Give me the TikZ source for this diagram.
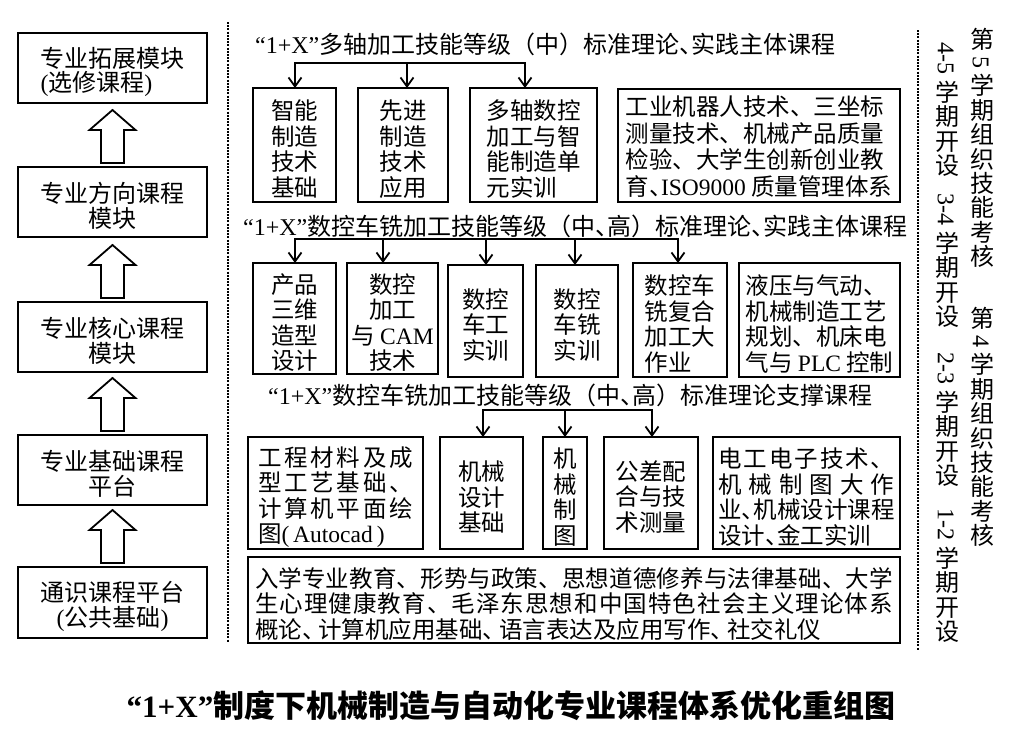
\documentclass[tikz,border=0pt]{standalone}
\usepackage{fontspec}
\setmainfont{Liberation Serif}
\newfontfamily\cjk{Noto Sans CJK SC}
\usetikzlibrary{arrows.meta,calc}
\lineskiplimit=-100pt
\lineskip=0pt
\newcommand\lt[1]{{\rmfamily #1}}
\newcommand\dn{\makebox[.5em][l]{、}}
\newcommand\dnw{\makebox[.7em][l]{、}}
% justified line
\def\jj#1{#1\futurelet\jnext\jjx}
\def\jjx{\ifx\jnext\relax\expandafter\jjend\else\expandafter\jjmore\fi}
\def\jjmore{\hfil\jj}
\def\jjend\relax{}
\newcommand\just[2]{\makebox[#1][s]{\jj#2\relax}}
% vertical text
\newlength\vcp
\newcommand\vc[1]{\rotatebox[origin=c]{90}{\makebox[1em][c]{\rule[\dimexpr.38em-.5\vcp\relax]{0pt}{\vcp}#1}}}
\def\vloop#1{\ifx\relax#1\else\vc{#1}\expandafter\vloop\fi}
\newcommand\vstr[1]{\vloop#1\relax}
% box with text
\newcommand\bx[7][]{%
  \node[box,minimum width={(#5)-(#3)},minimum height={(#6)-(#4)}] (#2) at ({((#3)+(#5))/2},{((#4)+(#6))/2}) {};
  \node[txt,#1] (#2t) at ([yshift=-4pt]#2.center) {#7};}
\newcommand\blkarr[1]{\draw[blk] ($(#1.north)+(-11.5,-4)$) -- ++(0,-33) -- ++(-11.5,0) -- ++(23,-20) -- ++(23,20) -- ++(-11.5,0) -- ++(0,33) -- cycle;}
\begin{document}
\begin{tikzpicture}[x=1pt,y=-1pt,
  box/.style={draw,line width=1.8pt,inner sep=0pt,outer sep=0pt},
  txt/.style={inner sep=0pt,align=center,font=\cjk\fontsize{23.5}{25.5}\selectfont},
  ltxt/.style={txt,font=\cjk\fontsize{24}{24.5}\selectfont},
  hd/.style={inner sep=0pt,anchor=west,font=\cjk\fontsize{24}{24}\selectfont},
  ln/.style={line width=1.8pt,line cap=rect},
  arr/.style={line width=1.8pt,-{Straight Barb[length=9pt,width=13pt]}},
  blk/.style={line width=1.8pt,fill=white},
  dots/.style={line width=1.6pt,dash pattern=on 2pt off 1.2pt},
  vt/.style={inner sep=0pt,anchor=west,rotate=-90,font=\cjk\fontsize{24}{24}\selectfont\setlength\vcp{24.4pt}},
  captxt/.style={inner sep=0pt,font=\cjk\bfseries\fontsize{31}{31}\selectfont}]
\fill[white] (0,0) rectangle (1009,728);
\useasboundingbox (0,0) rectangle (1009,728);

% left column
\bx[ltxt,align=left]{l1}{18}{33}{207}{103}{专业拓展模块\\\lt{(}选修课程\lt{)}}
\bx[ltxt]{l2}{18}{167}{207}{237}{专业方向课程\\模块}
\bx[ltxt]{l3}{18}{302}{207}{372}{专业核心课程\\模块}
\bx[ltxt]{l4}{18}{435}{207}{505}{专业基础课程\\平台}
\bx[ltxt]{l5}{18}{567}{207}{638}{通识课程平台\\\lt{(}公共基础\lt{)}}
\blkarr{l2}
\blkarr{l3}
\blkarr{l4}
\blkarr{l5}

% dotted separators
\draw[dots] (228,22) -- (228,642);
\draw[dots] (918,30) -- (918,650);

% row 1
\node[hd] (h1) at (255,44) {\lt{“1+X”}多轴加工技能等级（中）标准理论\dn 实践主体课程};
\bx{a1}{253}{88}{336}{202}{智能\\制造\\技术\\基础}
\bx{a2}{358}{88}{448}{202}{先进\\制造\\技术\\应用}
\bx[align=left]{a3}{470}{88}{597}{202}{多轴数控\\加工与智\\能制造单\\元实训}
\bx[align=left,font=\cjk\fontsize{23.5}{26.5}\selectfont,yshift=3pt]{a4}{618}{89}{900}{202}{工业机器人技术、三坐标\\测量技术、机械产品质量\\检验、大学生创新创业教\\育\dn\lt{ISO9000} 质量管理体系}
\coordinate (p1) at (295,63);
\coordinate (p2) at (407,63);
\coordinate (p3) at (525,63);
\draw[ln] (p1) -- (p3);
\draw[arr] (p1) -- (p1 |- a1.north);
\draw[arr] (p2) -- (p2 |- a2.north);
\draw[arr] (p3) -- (p3 |- a3.north);

% row 2
\node[hd] (h2) at (243,226) {\lt{“1+X”}数控车铣加工技能等级（中\dn 高）标准理论\dn 实践主体课程};
\bx{b1}{253}{263}{336}{374}{产品\\三维\\造型\\设计}
\bx{b2}{347}{263}{438}{374}{数控\\加工\\与 \lt{CAM}\\技术}
\bx{b3}{448}{265}{523}{377}{数控\\车工\\实训}
\bx{b4}{536}{265}{618}{377}{数控\\车铣\\实训}
\bx[align=left]{b5}{633}{263}{727}{377}{数控车\\铣复合\\加工大\\作业}
\bx[align=left]{b6}{739}{263}{900}{377}{液压与气动、\\机械制造工艺\\规划、机床电\\气与 \lt{PLC} 控制}
\coordinate (q1) at (295,239);
\coordinate (q2) at (383,239);
\coordinate (q3) at (486,239);
\coordinate (q4) at (575,239);
\coordinate (q5) at (678,239);
\draw[ln] (q1) -- (q5);
\draw[arr] (q1) -- (q1 |- b1.north);
\draw[arr] (q2) -- (q2 |- b2.north);
\draw[arr] (q3) -- (q3 |- b3.north);
\draw[arr] (q4) -- (q4 |- b4.north);
\draw[arr] (q5) -- (q5 |- b5.north);

% row 3
\node[hd] (h3) at (268,395) {\lt{“1+X”}数控车铣加工技能等级（中\dn 高）标准理论支撑课程};
\bx[align=left]{c1}{248}{437}{423}{549}{\just{155pt}{工程材料及成}\\\just{155pt}{型工艺基础、}\\\just{155pt}{计算机平面绘}\\图\lt{(\,Autocad\,)}}
\bx{c2}{440}{437}{523}{549}{机械\\设计\\基础}
\bx{c3}{543}{437}{587}{549}{机\\械\\制\\图}
\bx{c4}{604}{437}{698}{549}{公差配\\合与技\\术测量}
\bx[align=left]{c5}{713}{437}{900}{549}{\just{176pt}{电工电子技术、}\\\just{176pt}{机械制图大作}\\业\dn 机械设计课程\\设计\dn 金工实训}
\coordinate (r1) at (483,410);
\coordinate (r2) at (565,410);
\coordinate (r3) at (652,410);
\draw[ln] (r1) -- (r3);
\draw[arr] (r1) -- (r1 |- c2.north);
\draw[arr] (r2) -- (r2 |- c3.north);
\draw[arr] (r3) -- (r3 |- c4.north);

% bottom box
\bx[align=left]{d}{248}{557}{900}{643}{\just{638pt}{入学专业教育、形势与政策、思想道德修养与法律基础、大学}\\\just{638pt}{生心理健康教育、毛泽东思想和中国特色社会主义理论体系}\\概论\dnw 计算机应用基础\dnw 语言表达及应用写作\dnw 社交礼仪}

% vertical texts
\node[vt] (v1) at (982,27) {\vstr{第}\hspace{5pt}\lt{5}\hspace{5pt}\vstr{学期组织技能考核}};
\node[vt] (v2) at (982,306) {\vstr{第}\hspace{5pt}\lt{4}\hspace{5pt}\vstr{学期组织技能考核}};
\node[vt] (v3) at (947,42) {\lt{4-5}\hspace{6pt}\vstr{学期开设}};
\node[vt] (v4) at (947,193) {\lt{3-4}\hspace{6pt}\vstr{学期开设}};
\node[vt] (v5) at (947,352) {\lt{2-3}\hspace{6pt}\vstr{学期开设}};
\node[vt] (v6) at (947,508) {\lt{1-2}\hspace{6pt}\vstr{学期开设}};

% caption
\node[captxt] (cap) at (511,706) {\lt{“1+X”}制度下机械制造与自动化专业课程体系优化重组图};
\end{tikzpicture}
\end{document}
